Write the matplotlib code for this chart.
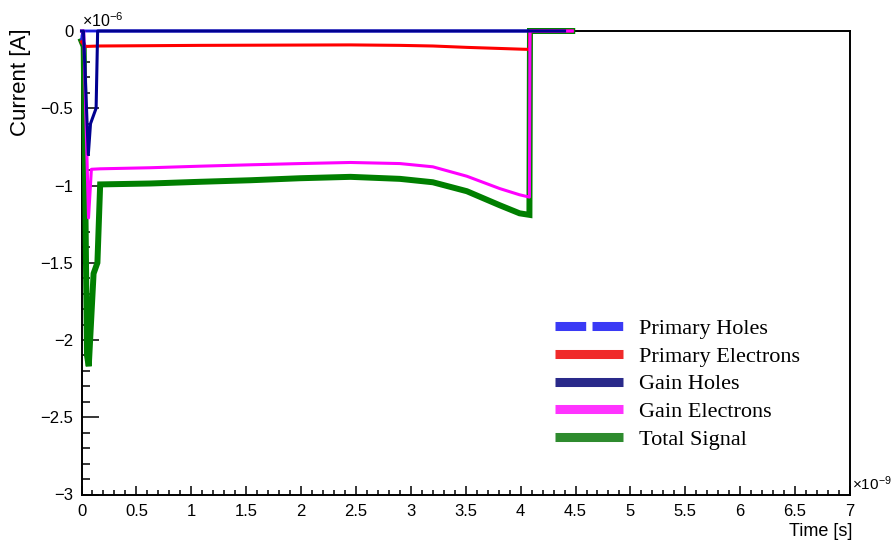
import matplotlib
matplotlib.use("Agg")
import matplotlib.pyplot as plt
from matplotlib.lines import Line2D
from matplotlib.ticker import MultipleLocator, FormatStrFormatter

plt.rcParams['font.family'] = ['Liberation Sans', 'DejaVu Sans']
plt.rcParams['mathtext.fontset'] = 'custom'
plt.rcParams['mathtext.rm'] = 'Liberation Sans'
plt.rcParams['mathtext.it'] = 'Liberation Sans:italic'

# ---- data (time in 1e-9 s, current in 1e-6 A) ----
labels = ["Primary Holes", "Primary Electrons", "Gain Holes", "Gain Electrons", "Total Signal"]

t_ph = [0.0, 0.005, 0.02, 4.47]
i_ph = [-0.06, -0.03, 0.0, 0.0]

t_pe = [0.0, 0.03, 0.17, 0.63, 1.08, 1.54, 1.99, 2.45, 2.9, 3.2, 3.51, 3.81, 4.02, 4.08, 4.085, 4.47]
i_pe = [-0.07, -0.10, -0.097, -0.095, -0.093, -0.092, -0.091, -0.090, -0.093, -0.097, -0.106, -0.113, -0.118, -0.119, 0.0, 0.0]

t_gh = [0.0, 0.018, 0.062, 0.082, 0.133, 0.147, 4.40]
i_gh = [0.0, 0.0, -0.80, -0.60, -0.50, 0.0, 0.0]

t_ge = [0.0, 0.02, 0.064, 0.09, 0.17, 0.63, 1.08, 1.54, 1.99, 2.45, 2.9, 3.2, 3.51, 3.81, 3.99, 4.08, 4.085, 4.47]
i_ge = [0.0, 0.0, -1.21, -0.895, -0.892, -0.885, -0.875, -0.866, -0.858, -0.851, -0.858, -0.879, -0.94, -1.02, -1.06, -1.075, 0.0, 0.0]

t_tot = [0.0, 0.02, 0.05, 0.066, 0.11, 0.145, 0.17, 0.63, 1.08, 1.54, 1.99, 2.45, 2.9, 3.2, 3.51, 3.81, 3.99, 4.08, 4.085, 4.47]
i_tot = [-0.065, -0.10, -2.10, -2.17, -1.57, -1.50, -0.993, -0.987, -0.976, -0.966, -0.953, -0.944, -0.957, -0.979, -1.037, -1.128, -1.18, -1.19, 0.0, 0.0]

x_ticks_major = 0.5
y_ticks_major = 0.5

fig = plt.figure(figsize=(8.91, 5.45), dpi=100)
W, H = 891, 545
ax = fig.add_axes([81.5 / W, 1 - 494.5 / H, (850 - 81.5) / W, (494.5 - 31) / H])

c_ph, c_pe, c_gh, c_ge, c_tot = '#2020ff', '#ff0000', '#000090', '#ff00ff', '#007f00'

ax.plot(t_tot, i_tot, color=c_tot, lw=4.3, zorder=3, clip_on=False, solid_joinstyle='miter')
ax.plot(t_ph, i_ph, color=c_ph, lw=2.2, zorder=4, clip_on=False, alpha=0.85)
ax.plot(t_pe, i_pe, color=c_pe, lw=2.2, zorder=5, clip_on=False)
ax.plot(t_ge, i_ge, color=c_ge, lw=2.2, zorder=6, clip_on=False)
ax.plot(t_gh, i_gh, color=c_gh, lw=2.2, zorder=7, clip_on=False)

ax.set_xlim(0, 7)
ax.set_ylim(-3, 0)
ax.xaxis.set_major_locator(MultipleLocator(x_ticks_major))
ax.xaxis.set_minor_locator(MultipleLocator(0.1))
ax.yaxis.set_major_locator(MultipleLocator(y_ticks_major))
ax.yaxis.set_minor_locator(MultipleLocator(0.1))
ax.xaxis.set_major_formatter(FormatStrFormatter('%g'))
ax.yaxis.set_major_formatter(plt.FuncFormatter(lambda v, p: ('%g' % v).replace('-', '\u2212')))

for s in ax.spines.values():
    s.set_linewidth(1.4)
ax.tick_params(axis='x', which='major', direction='in', length=6.5, width=1.1, labelsize=12, pad=7,
               top=False)
ax.tick_params(axis='x', which='minor', direction='in', length=3.3, width=1.1, top=False)
ax.tick_params(axis='y', which='major', direction='in', length=12, width=1.1, labelsize=12, pad=6,
               right=False)
ax.tick_params(axis='y', which='minor', direction='in', length=6, width=1.1, right=False)

fig.text(21 / W, 1 - 28 / H, 'Current [A]', rotation=90, ha='center', va='top', fontsize=16)
fig.text(852 / W, 1 - 532 / H, 'Time [s]', ha='right', va='center', fontsize=13)
fig.text(82 / W, 1 - 27 / H, r'$\times$10$^{-6}$', ha='left', va='baseline', fontsize=11.5)
fig.text(852 / W, 1 - 490 / H, r'$\times$10$^{-9}$', ha='left', va='baseline', fontsize=11)

handles = [
    Line2D([], [], color='#3a3af5', lw=6.5, dashes=(3.4, 0.7), dash_capstyle='butt'),
    Line2D([], [], color='#f02a2a', lw=6.5, solid_capstyle='butt'),
    Line2D([], [], color='#2a2a8a', lw=6.5, solid_capstyle='butt'),
    Line2D([], [], color='#ff33ff', lw=6.5, solid_capstyle='butt'),
    Line2D([], [], color='#2e8b2e', lw=6.5, solid_capstyle='butt'),
]
leg = fig.legend(handles, labels, loc='upper left', bbox_to_anchor=(555 / W, 1 - 318.5 / H),
                 frameon=False, borderpad=0, borderaxespad=0, handlelength=3.05, handletextpad=0.75,
                 labelspacing=0.32, prop={'family': 'Liberation Serif', 'size': 16})

fig.savefig('out.png', dpi=100)
